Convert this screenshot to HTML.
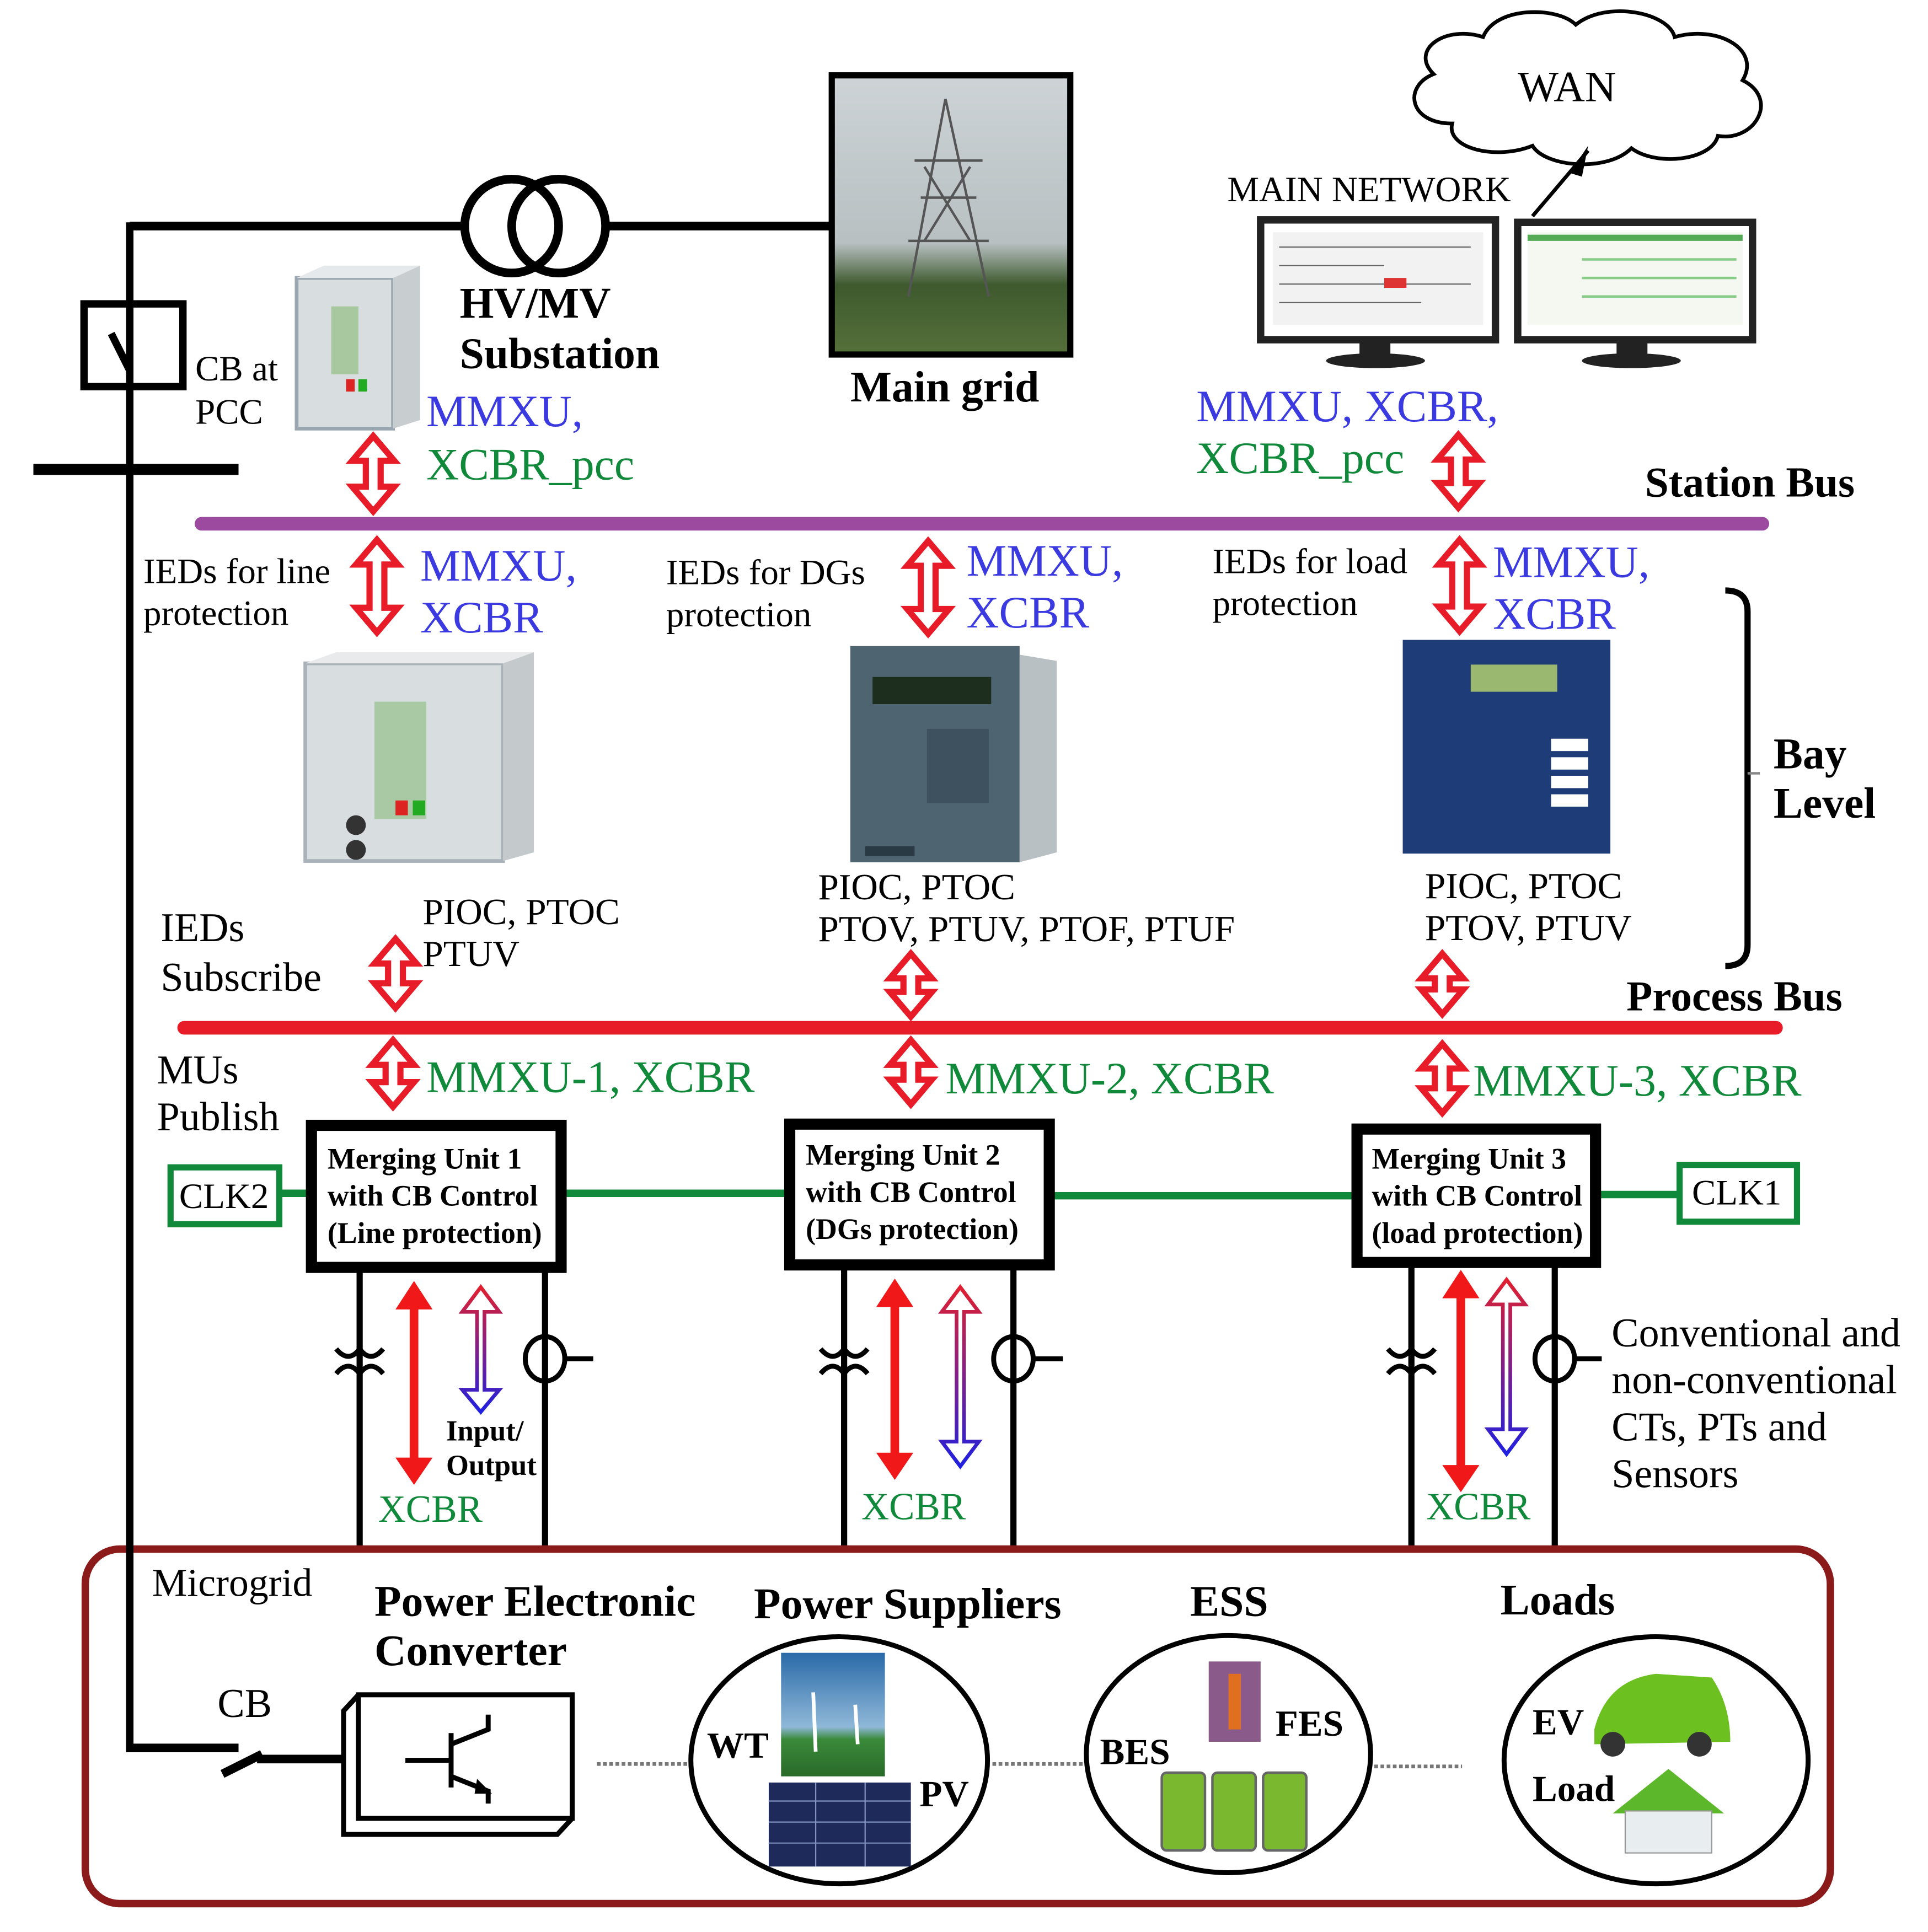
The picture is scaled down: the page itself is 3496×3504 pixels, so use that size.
<!DOCTYPE html>
<html><head><meta charset="utf-8"><style>
html,body{margin:0;padding:0;background:#fff;}
svg{display:block;}
text{font-family:"Liberation Serif",serif;}
.b{font-weight:bold;}
</style></head><body>
<svg width="3496" height="3504" viewBox="0 0 1560 1564" preserveAspectRatio="none" xmlns="http://www.w3.org/2000/svg">
<defs>
<linearGradient id="pg" x1="0" y1="0" x2="0" y2="1"><stop offset="0" stop-color="#e02030"/><stop offset="1" stop-color="#2020e0"/></linearGradient>
<linearGradient id="sky" x1="0" y1="0" x2="0" y2="1"><stop offset="0" stop-color="#cdd3d6"/><stop offset="0.6" stop-color="#b8c0c2"/><stop offset="0.75" stop-color="#3e5a2e"/><stop offset="1" stop-color="#56703a"/></linearGradient>
<linearGradient id="wt" x1="0" y1="0" x2="0" y2="1"><stop offset="0" stop-color="#2a6aa8"/><stop offset="0.6" stop-color="#8fb8d8"/><stop offset="0.7" stop-color="#3a8a3a"/><stop offset="1" stop-color="#2a6a2a"/></linearGradient>
</defs>

<polyline points="105,183 375,183" fill="none" stroke="#000" stroke-width="7"/>
<line x1="105" y1="180" x2="105" y2="1418" stroke="#000" stroke-width="6"/>
<line x1="102" y1="1415" x2="193" y2="1415" stroke="#000" stroke-width="7"/>
<line x1="180" y1="1436" x2="212" y2="1420" stroke="#000" stroke-width="7"/>
<line x1="208" y1="1424" x2="290" y2="1424" stroke="#000" stroke-width="7"/>
<line x1="490" y1="183" x2="672" y2="183" stroke="#000" stroke-width="7"/>
<circle cx="414" cy="183" r="38" fill="none" stroke="#000" stroke-width="7"/>
<circle cx="452" cy="183" r="38" fill="none" stroke="#000" stroke-width="7"/>
<rect x="68" y="246" width="80" height="67" fill="none" stroke="#000" stroke-width="6"/>
<line x1="90" y1="270" x2="105" y2="300" stroke="#000" stroke-width="6"/>
<line x1="27" y1="380" x2="193" y2="380" stroke="#000" stroke-width="9"/>
<text x="158" y="308" font-size="29">CB at</text>
<text x="158" y="343" font-size="29">PCC</text>

<rect x="240" y="225" width="78" height="122" fill="#d8dde0" stroke="#9aa7b0" stroke-width="3"/>
<polygon points="318,225 340,215 340,340 318,347" fill="#c8cdd0"/>
<polygon points="240,225 262,215 340,215 318,225" fill="#e6e9eb"/>
<rect x="268" y="248" width="22" height="55" fill="#a8c8a0"/>
<rect x="280" y="307" width="7" height="10" fill="#d22"/><rect x="290" y="307" width="7" height="10" fill="#2a2"/>

<text x="372" y="257" font-size="35.5" class="b">HV/MV</text>
<text x="372" y="298" font-size="35.5" class="b">Substation</text>

<rect x="673" y="61" width="193" height="226" fill="url(#sky)" stroke="#000" stroke-width="5"/>
<g stroke="#555" stroke-width="2" fill="none">
<line x1="765" y1="80" x2="735" y2="240"/><line x1="765" y1="80" x2="800" y2="240"/>
<line x1="740" y1="130" x2="795" y2="130"/><line x1="745" y1="160" x2="790" y2="160"/><line x1="735" y1="195" x2="800" y2="195"/>
<line x1="748" y1="135" x2="785" y2="195"/><line x1="785" y1="135" x2="748" y2="195"/>
</g>
<text x="688" y="325" font-size="35.5" class="b">Main grid</text>

<path d="M1160,60 C1140,40 1170,20 1200,30 C1210,5 1260,5 1275,20 C1300,0 1350,10 1355,30 C1390,20 1425,40 1410,65 C1440,80 1420,115 1390,110 C1385,130 1340,135 1320,120 C1300,140 1250,135 1240,118 C1210,130 1170,120 1175,100 C1140,100 1135,70 1160,60 Z" fill="#fff" stroke="#000" stroke-width="3"/>
<text x="1228" y="82" font-size="35">WAN</text>
<line x1="1285" y1="122" x2="1240" y2="175" stroke="#000" stroke-width="3"/>
<polygon points="1285,118 1270,140 1280,143" fill="#000"/>
<text x="993" y="163" font-size="29">MAIN NETWORK</text>
<rect x="1020" y="178" width="190" height="97" fill="#fff" stroke="#222" stroke-width="6"/>
<rect x="1030" y="188" width="170" height="75" fill="#f2f2f2"/>
<g stroke="#666" stroke-width="1"><line x1="1035" y1="200" x2="1190" y2="200"/><line x1="1035" y1="215" x2="1120" y2="215"/><line x1="1035" y1="230" x2="1190" y2="230"/><line x1="1035" y1="245" x2="1150" y2="245"/></g>
<rect x="1120" y="225" width="18" height="8" fill="#d33"/>
<rect x="1100" y="275" width="25" height="12" fill="#222"/><ellipse cx="1113" cy="292" rx="40" ry="6" fill="#222"/>
<rect x="1228" y="180" width="190" height="95" fill="#fff" stroke="#222" stroke-width="6"/>
<rect x="1236" y="188" width="174" height="75" fill="#f4f8f0"/>
<rect x="1236" y="190" width="174" height="5" fill="#5a5"/>
<g stroke="#8c8" stroke-width="2"><line x1="1280" y1="210" x2="1405" y2="210"/><line x1="1280" y1="225" x2="1405" y2="225"/><line x1="1280" y1="240" x2="1405" y2="240"/></g>
<rect x="1308" y="275" width="25" height="12" fill="#222"/><ellipse cx="1320" cy="292" rx="40" ry="6" fill="#222"/>

<text x="345" y="345" font-size="36.5" fill="#3a3ae0">MMXU,</text>
<text x="345" y="388" font-size="36.5" fill="#108a3a">XCBR_pcc</text>
<text x="968" y="341" font-size="36.5" fill="#3a3ae0">MMXU, XCBR,</text>
<text x="968" y="383" font-size="36.5" fill="#108a3a">XCBR_pcc</text>
<text x="1331" y="402" font-size="34.5" class="b">Station Bus</text>

<line x1="163" y1="424" x2="1426" y2="424" stroke="#9b4aa0" stroke-width="11" stroke-linecap="round"/>
<line x1="149" y1="832" x2="1437" y2="832" stroke="#e81c28" stroke-width="11" stroke-linecap="round"/>

<g fill="#fff" stroke="#e81c28" stroke-width="5" stroke-linejoin="miter">
<polygon points="302,353 319,373 308,373 308,394 319,394 302,414 285,394 296,394 296,373 285,373"/>
<polygon points="1180,352 1197,372 1186,372 1186,391 1197,391 1180,411 1163,391 1174,391 1174,372 1163,372"/>
<polygon points="305,437 322,457 311,457 311,492 322,492 305,512 288,492 299,492 299,457 288,457"/>
<polygon points="751,438 768,458 757,458 757,493 768,493 751,513 734,493 745,493 745,458 734,458"/>
<polygon points="1181,437 1198,457 1187,457 1187,491 1198,491 1181,511 1164,491 1175,491 1175,457 1164,457"/>
<polygon points="320,760 337,780 326,780 326,796 337,796 320,816 303,796 314,796 314,780 303,780"/>
<polygon points="737,772 754,792 743,792 743,803 754,803 737,823 720,803 731,803 731,792 720,792"/>
<polygon points="1167,772 1184,792 1173,792 1173,801 1184,801 1167,821 1150,801 1161,801 1161,792 1150,792"/>
<polygon points="318,842 335,862 324,862 324,876 335,876 318,896 301,876 312,876 312,862 301,862"/>
<polygon points="737,842 754,862 743,862 743,874 754,874 737,894 720,874 731,874 731,862 720,862"/>
<polygon points="1167,845 1184,865 1173,865 1173,881 1184,881 1167,901 1150,881 1161,881 1161,865 1150,865"/>
</g>

<text x="116" y="472" font-size="29">IEDs for line</text>
<text x="116" y="506" font-size="29">protection</text>
<text x="340" y="470" font-size="36.5" fill="#3a3ae0">MMXU,</text>
<text x="340" y="512" font-size="36.5" fill="#3a3ae0">XCBR</text>
<text x="539" y="473" font-size="29">IEDs for DGs</text>
<text x="539" y="507" font-size="29">protection</text>
<text x="782" y="466" font-size="36.5" fill="#3a3ae0">MMXU,</text>
<text x="782" y="508" font-size="36.5" fill="#3a3ae0">XCBR</text>
<text x="981" y="464" font-size="29">IEDs for load</text>
<text x="981" y="498" font-size="29">protection</text>
<text x="1208" y="467" font-size="36.5" fill="#3a3ae0">MMXU,</text>
<text x="1208" y="509" font-size="36.5" fill="#3a3ae0">XCBR</text>

<rect x="247" y="537" width="160" height="160" fill="#d8dde0" stroke="#aab3ba" stroke-width="3"/>
<polygon points="407,537 432,528 432,690 407,697" fill="#c4c9cc"/>
<polygon points="247,537 272,528 432,528 407,537" fill="#e8eaec"/>
<rect x="303" y="568" width="42" height="95" fill="#a9c9a4"/>
<rect x="320" y="648" width="10" height="12" fill="#d22"/><rect x="334" y="648" width="10" height="12" fill="#2a2"/>
<circle cx="288" cy="668" r="8" fill="#333"/><circle cx="288" cy="688" r="8" fill="#333"/>

<rect x="688" y="523" width="137" height="175" fill="#4e6470"/>
<polygon points="825,530 855,535 855,690 825,698" fill="#b8c0c4"/>
<rect x="706" y="548" width="96" height="22" fill="#1e2e1e"/>
<rect x="750" y="590" width="50" height="60" fill="#3d525e"/>
<rect x="700" y="685" width="40" height="8" fill="#2a3a44"/>

<rect x="1135" y="518" width="168" height="173" fill="#1e3c78"/>
<rect x="1190" y="538" width="70" height="22" fill="#9ab870"/>
<g fill="#fff"><rect x="1255" y="598" width="30" height="10"/><rect x="1255" y="613" width="30" height="10"/><rect x="1255" y="628" width="30" height="10"/><rect x="1255" y="643" width="30" height="10"/></g>

<text x="1435" y="622" font-size="35.5" class="b">Bay</text>
<text x="1435" y="662" font-size="35.5" class="b">Level</text>
<path d="M1396,478 Q1414,478 1414,495 L1414,765 Q1414,782 1396,782" fill="none" stroke="#000" stroke-width="5"/>
<line x1="1414" y1="626" x2="1424" y2="626" stroke="#888" stroke-width="2"/>

<text x="342" y="748" font-size="30">PIOC, PTOC</text>
<text x="342" y="782" font-size="30">PTUV</text>
<text x="130" y="762" font-size="33">IEDs</text>
<text x="130" y="802" font-size="33">Subscribe</text>
<text x="662" y="728" font-size="30">PIOC, PTOC</text>
<text x="662" y="762" font-size="30">PTOV, PTUV, PTOF, PTUF</text>
<text x="1153" y="727" font-size="30">PIOC, PTOC</text>
<text x="1153" y="761" font-size="30">PTOV, PTUV</text>
<text x="1316" y="818" font-size="34.5" class="b">Process Bus</text>

<text x="127" y="877" font-size="33">MUs</text>
<text x="127" y="915" font-size="33">Publish</text>
<text x="345" y="884" font-size="36.5" fill="#108a3a">MMXU-1, XCBR</text>
<text x="765" y="885" font-size="36.5" fill="#108a3a">MMXU-2, XCBR</text>
<text x="1192" y="887" font-size="36.5" fill="#108a3a">MMXU-3, XCBR</text>

<line x1="227" y1="966" x2="250" y2="966" stroke="#108a3a" stroke-width="6"/>
<line x1="456" y1="966" x2="638" y2="966" stroke="#108a3a" stroke-width="6"/>
<line x1="852" y1="968" x2="1096" y2="968" stroke="#108a3a" stroke-width="6"/>
<line x1="1292" y1="967" x2="1360" y2="967" stroke="#108a3a" stroke-width="6"/>
<rect x="138" y="945" width="88" height="46" fill="#fff" stroke="#108a3a" stroke-width="5"/>
<text x="145" y="978" font-size="29">CLK2</text>
<rect x="1359" y="943" width="95" height="46" fill="#fff" stroke="#108a3a" stroke-width="5"/>
<text x="1369" y="975" font-size="29">CLK1</text>

<rect x="252" y="911" width="202" height="115" fill="#fff" stroke="#000" stroke-width="9"/>
<text x="265" y="946" font-size="24" class="b">Merging Unit 1</text>
<text x="265" y="976" font-size="24" class="b">with CB Control</text>
<text x="265" y="1006" font-size="24" class="b">(Line protection)</text>
<rect x="639" y="910" width="210" height="114" fill="#fff" stroke="#000" stroke-width="9"/>
<text x="652" y="943" font-size="24" class="b">Merging Unit 2</text>
<text x="652" y="973" font-size="24" class="b">with CB Control</text>
<text x="652" y="1003" font-size="24" class="b">(DGs protection)</text>
<rect x="1098" y="914" width="193" height="108" fill="#fff" stroke="#000" stroke-width="9"/>
<text x="1110" y="946" font-size="24" class="b">Merging Unit 3</text>
<text x="1110" y="976" font-size="24" class="b">with CB Control</text>
<text x="1110" y="1006" font-size="24" class="b">(load protection)</text>

<g stroke="#000" stroke-width="5">
<line x1="291" y1="1030" x2="291" y2="1252"/><line x1="441" y1="1030" x2="441" y2="1252"/>
<line x1="683" y1="1028" x2="683" y2="1252"/><line x1="820" y1="1028" x2="820" y2="1252"/>
<line x1="1142" y1="1026" x2="1142" y2="1252"/><line x1="1258" y1="1026" x2="1258" y2="1252"/>
</g>
<g fill="none" stroke="#000" stroke-width="4">
<path d="M272,1092 q10,12 19,0 q9,12 19,0"/><path d="M272,1112 q10,-12 19,0 q9,-12 19,0"/>
<path d="M664,1092 q10,12 19,0 q9,12 19,0"/><path d="M664,1112 q10,-12 19,0 q9,-12 19,0"/>
<path d="M1123,1092 q10,12 19,0 q9,12 19,0"/><path d="M1123,1112 q10,-12 19,0 q9,-12 19,0"/>
<ellipse cx="441" cy="1100" rx="16" ry="18"/><line x1="457" y1="1100" x2="480" y2="1100"/>
<ellipse cx="820" cy="1100" rx="16" ry="18"/><line x1="836" y1="1100" x2="860" y2="1100"/>
<ellipse cx="1258" cy="1100" rx="16" ry="18"/><line x1="1274" y1="1100" x2="1296" y2="1100"/>
</g>
<g stroke="#f01818" stroke-width="7" fill="#f01818">
<line x1="335" y1="1055" x2="335" y2="1185"/>
<line x1="724" y1="1052" x2="724" y2="1182"/>
<line x1="1182" y1="1045" x2="1182" y2="1192"/>
</g>
<g fill="#f01818">
<polygon points="335,1037 350,1060 320,1060"/><polygon points="335,1202 350,1180 320,1180"/>
<polygon points="724,1035 739,1058 709,1058"/><polygon points="724,1198 739,1176 709,1176"/>
<polygon points="1182,1028 1197,1051 1167,1051"/><polygon points="1182,1208 1197,1186 1167,1186"/>
</g>
<g fill="none" stroke-width="3">
<path d="M389,1042 L404,1062 L392,1062 L392,1125 L404,1125 L389,1143 L374,1125 L386,1125 L386,1062 L374,1062 Z" stroke="url(#pg)"/>
<path d="M777,1042 L792,1062 L780,1062 L780,1167 L792,1167 L777,1187 L762,1167 L774,1167 L774,1062 L762,1062 Z" stroke="url(#pg)"/>
<path d="M1219,1036 L1234,1056 L1222,1056 L1222,1157 L1234,1157 L1219,1177 L1204,1157 L1216,1157 L1216,1056 L1204,1056 Z" stroke="url(#pg)"/>
</g>
<text x="361" y="1166" font-size="23.5" class="b">Input/</text>
<text x="361" y="1194" font-size="23.5" class="b">Output</text>
<text x="306" y="1232" font-size="31" fill="#108a3a">XCBR</text>
<text x="697" y="1230" font-size="31" fill="#108a3a">XCBR</text>
<text x="1154" y="1230" font-size="31" fill="#108a3a">XCBR</text>
<text x="1304" y="1090" font-size="33">Conventional and</text>
<text x="1304" y="1128" font-size="33">non-conventional</text>
<text x="1304" y="1166" font-size="33">CTs, PTs and</text>
<text x="1304" y="1204" font-size="33">Sensors</text>

<rect x="69" y="1254" width="1412" height="287" rx="28" fill="none" stroke="#8b1a1a" stroke-width="6"/>
<line x1="105" y1="1250" x2="105" y2="1418" stroke="#000" stroke-width="6"/>
<text x="123" y="1292" font-size="32">Microgrid</text>
<text x="303" y="1308" font-size="35.5" class="b">Power Electronic</text>
<text x="303" y="1348" font-size="35.5" class="b">Converter</text>
<text x="610" y="1310" font-size="35.5" class="b">Power Suppliers</text>
<text x="963" y="1308" font-size="35.5" class="b">ESS</text>
<text x="1214" y="1307" font-size="35.5" class="b">Loads</text>
<text x="176" y="1390" font-size="33">CB</text>
<g fill="#fff" stroke="#000" stroke-width="4">
<polygon points="278,1385 290,1372 463,1372 463,1472 451,1485 278,1485"/>
<rect x="290" y="1372" width="173" height="100"/>
<line x1="278" y1="1385" x2="290" y2="1372"/>
</g>
<g stroke="#000" stroke-width="4" fill="none">
<line x1="328" y1="1425" x2="365" y2="1425"/><line x1="365" y1="1403" x2="365" y2="1447"/>
<polyline points="365,1412 395,1400 395,1388"/><polyline points="365,1438 395,1450 395,1460"/>
</g>
<polygon points="398,1452 386,1440 384,1452" fill="#000"/>
<g stroke="#777" stroke-width="3" stroke-dasharray="3,2">
<line x1="483" y1="1428" x2="557" y2="1428"/><line x1="803" y1="1428" x2="876" y2="1428"/><line x1="1112" y1="1430" x2="1183" y2="1430"/>
</g>
<ellipse cx="679" cy="1425" rx="120" ry="100" fill="none" stroke="#000" stroke-width="4"/>
<ellipse cx="994" cy="1420" rx="115" ry="96" fill="none" stroke="#000" stroke-width="4"/>
<ellipse cx="1340" cy="1425" rx="123" ry="100" fill="none" stroke="#000" stroke-width="4"/>
<rect x="632" y="1338" width="84" height="100" fill="url(#wt)"/>
<g stroke="#fff" stroke-width="3"><line x1="658" y1="1370" x2="660" y2="1418"/><line x1="692" y1="1380" x2="694" y2="1412"/></g>
<rect x="622" y="1443" width="115" height="68" fill="#1e2a5a"/>
<g stroke="#8090c0" stroke-width="1"><line x1="622" y1="1458" x2="737" y2="1458"/><line x1="622" y1="1475" x2="737" y2="1475"/><line x1="622" y1="1492" x2="737" y2="1492"/><line x1="660" y1="1443" x2="660" y2="1511"/><line x1="700" y1="1443" x2="700" y2="1511"/></g>
<text x="572" y="1423" font-size="30" class="b">WT</text>
<text x="744" y="1462" font-size="30" class="b">PV</text>
<rect x="978" y="1345" width="42" height="65" fill="#8a5a8a"/><rect x="994" y="1355" width="10" height="45" fill="#e07020"/>
<text x="1032" y="1405" font-size="30" class="b">FES</text>
<text x="890" y="1428" font-size="30" class="b">BES</text>
<g fill="#7ab830" stroke="#666" stroke-width="2">
<rect x="940" y="1435" width="35" height="63" rx="4"/><rect x="981" y="1435" width="35" height="63" rx="4"/><rect x="1022" y="1435" width="35" height="63" rx="4"/>
</g>
<text x="1240" y="1404" font-size="30" class="b">EV</text>
<path d="M1290,1400 Q1300,1360 1340,1355 L1385,1358 Q1400,1380 1400,1410 L1290,1412 Z" fill="#6cc020"/>
<circle cx="1305" cy="1412" r="10" fill="#333"/><circle cx="1375" cy="1412" r="10" fill="#333"/>
<text x="1240" y="1458" font-size="30" class="b">Load</text>
<polygon points="1305,1468 1350,1432 1395,1468" fill="#5cb82a"/>
<rect x="1315" y="1466" width="70" height="34" fill="#e8eef0" stroke="#999"/>
</svg>
</body></html>
